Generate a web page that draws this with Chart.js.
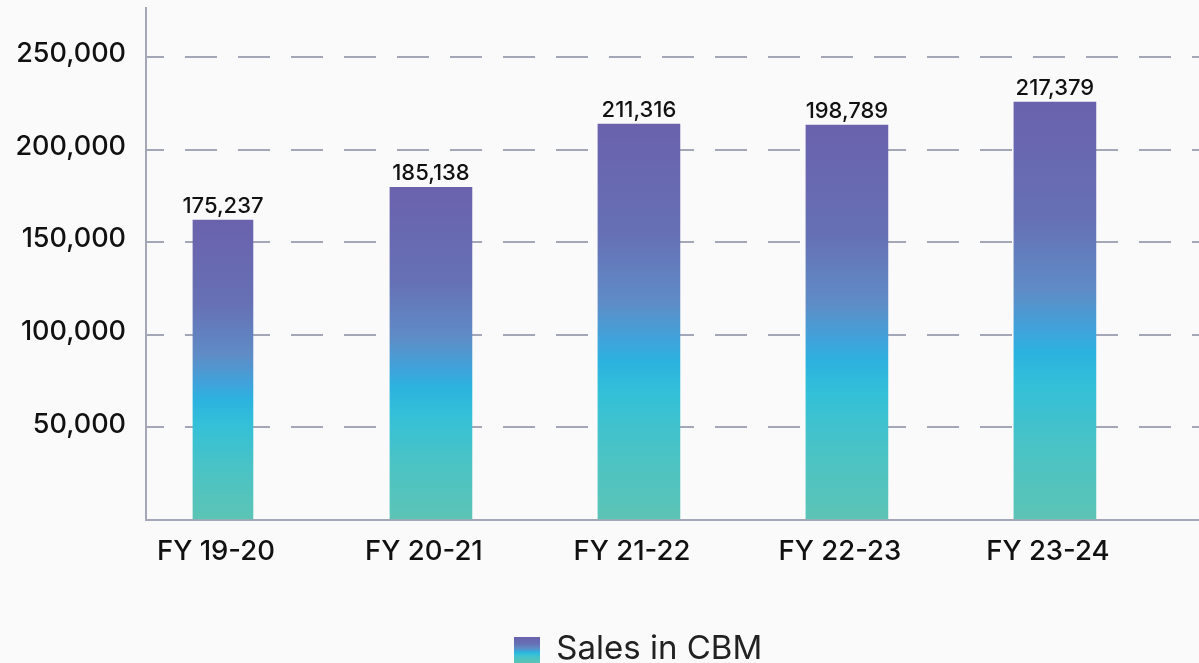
<!DOCTYPE html>
<html><head><meta charset="utf-8">
<script src="https://cdn.jsdelivr.net/npm/chart.js@4"></script>
<style>
html,body{margin:0;padding:0;background:#fafafa;overflow:hidden;width:1199px;height:663px}
#wrap{position:relative;width:1276px;height:663px}
</style></head>
<body><div id="wrap"><canvas id="c" width="1276" height="663"></canvas></div>
<script>
const categories = ['FY 19-20', 'FY 20-21', 'FY 21-22', 'FY 22-23', 'FY 23-24'];
const barHeights = [162000, 179600, 213800, 213300, 225700];
const printedLabels = ['175,237', '185,138', '211,316', '198,789', '217,379'];
const yTickValues = [0, 50000, 100000, 150000, 200000, 250000];
const seriesName = 'Sales in CBM';

const FONT = 'Inter, "Liberation Sans", sans-serif';
const GRID = '#a3a7b7';
const stops = [[0,'#6a62ac'],[0.28,'#6670b5'],[0.45,'#5f8cc6'],[0.55,'#3ea4dc'],[0.6,'#2cb2df'],[0.68,'#33c0d8'],[0.82,'#49c3c6'],[1,'#5cc4b5']];

function barFill(ctx) {
  const chart = ctx.chart;
  if (!chart.chartArea || ctx.type !== 'data' || !ctx.parsed || ctx.parsed.y == null) return stops[0][1];
  const ys = chart.scales.y;
  const top = ys.getPixelForValue(ctx.parsed.y), bottom = ys.getPixelForValue(0);
  const g = chart.ctx.createLinearGradient(0, top, 0, bottom);
  stops.forEach(s => g.addColorStop(s[0], s[1]));
  return g;
}

// legend swatch
const swatch = document.createElement('canvas');
swatch.width = 26; swatch.height = 26;
(() => { const c = swatch.getContext('2d'); const g = c.createLinearGradient(0,0,0,26);
  stops.forEach(s => g.addColorStop(s[0], s[1])); c.fillStyle = g; c.fillRect(0,0,26,26); })();

const firstData = barHeights.map((v, i) => ({x: i, y: i === 0 ? v : null}));
const restData = barHeights.map((v, i) => ({x: i, y: i === 0 ? null : v}));

const valueLabels = {
  id: 'valueLabels',
  afterDatasetsDraw(chart) {
    const ctx = chart.ctx;
    ctx.save();
    ctx.font = '500 22px ' + FONT;
    ctx.fillStyle = '#111';
    ctx.textAlign = 'center';
    ctx.textBaseline = 'alphabetic';
    chart.data.datasets.forEach((ds, di) => {
      chart.getDatasetMeta(di).data.forEach((el, i) => {
        if (ds.data[i].y == null) return;
        ctx.fillText(printedLabels[i], el.x, el.y - 7);
      });
    });
    ctx.restore();
  }
};
const legendShift = {
  id: 'legendShift',
  afterLayout(chart) { chart.legend.top += 13; chart.legend.bottom += 13; }
};

new Chart(document.getElementById('c'), {
  type: 'bar',
  data: {
    datasets: [
      {label: seriesName, data: firstData, barThickness: 60, grouped: false, backgroundColor: barFill, borderWidth: 0},
      {label: seriesName, data: restData, barThickness: 82, grouped: false, backgroundColor: barFill, borderWidth: 0}
    ]
  },
  options: {
    responsive: false, animation: false, devicePixelRatio: 1,
    layout: {padding: {top: 8, left: 0, right: 0, bottom: 0}},
    scales: {
      x: {
        type: 'linear', min: -0.37, max: 5.063, offset: false,
        afterBuildTicks: s => { s.ticks = categories.map((c, i) => ({value: i})); },
        afterFit: s => { s.height = 100; s.paddingLeft = 0; s.paddingRight = 0; },
        grid: {display: false, drawTicks: false, offset: false},
        border: {display: true, color: GRID, width: 2},
        ticks: {callback: v => categories[v], font: {family: FONT, size: 27.5, weight: '500'}, color: '#111', padding: 15, labelOffset: -7, maxRotation: 0, autoSkip: false}
      },
      y: {
        min: 0, max: 276500,
        afterBuildTicks: s => { s.ticks = yTickValues.map(v => ({value: v})); },
        afterFit: s => { s.width = 146; s.paddingTop = 0; s.paddingBottom = 0; },
        grid: {color: c => (c.tick && c.tick.value === 0) ? 'rgba(0,0,0,0)' : GRID, lineWidth: 2, drawTicks: false},
        border: {display: true, color: GRID, width: 2, dash: [32, 21], dashOffset: 15},
        ticks: {callback: v => v === 0 ? '' : v.toLocaleString('en-US'), font: {family: FONT, size: 27, weight: '500'}, color: '#111', padding: 20, labelOffset: -3}
      }
    },
    plugins: {
      legend: {
        position: 'bottom',
        labels: {
          filter: item => item.datasetIndex === 0,
          usePointStyle: true, pointStyle: swatch, pointStyleWidth: 26, boxHeight: 26,
          font: {family: FONT, size: 33, weight: '400'}, color: '#222', padding: 0
        }
      },
      tooltip: {enabled: false}
    }
  },
  plugins: [valueLabels, legendShift]
});
</script>
</body></html>
